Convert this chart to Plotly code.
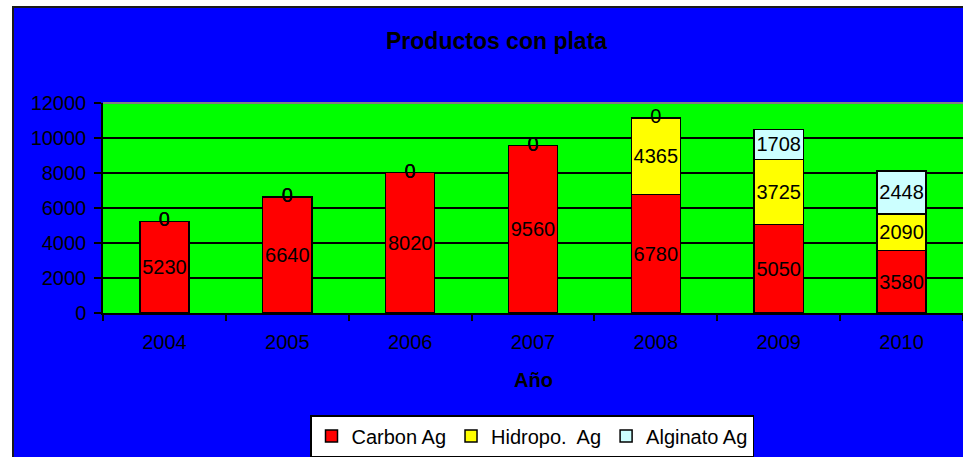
import plotly.graph_objects as go

years = ["2004", "2005", "2006", "2007", "2008", "2009", "2010"]
carbon_ag = [5230, 6640, 8020, 9560, 6780, 5050, 3580]
hidropo_ag = [0, 0, 0, 0, 4365, 3725, 2090]
alginato_ag = [0, 0, 0, 0, 0, 1708, 2448]

series_names = ["Carbon Ag", "Hidropo.\u00a0 Ag", "Alginato Ag"]
series_values = [carbon_ag, hidropo_ag, alginato_ag]
series_colors = ["#FF0000", "#FFFF00", "#CCFFFF"]

W, H = 963, 457
L, R, T, B = 103, 0, 103, 144
PW, PH = W - L - R, H - T - B


def px_x(px):
    return (px - L) / PW


def px_y(py):
    return (H - B - py) / PH


FONT = "Arial, Liberation Sans, sans-serif"
fig = go.Figure()

cum = [0] * len(years)
zero_x, zero_y = [], []
for name, vals, col in zip(series_names, series_values, series_colors):
    fig.add_trace(go.Bar(
        x=years, y=vals, name=name,
        marker=dict(color=col, line=dict(color="black", width=1.5)),
        text=[str(v) if v != 0 else "" for v in vals],
        textposition="inside", insidetextanchor="middle",
        textangle=0, constraintext="none",
        textfont=dict(family=FONT, size=20, color="black"),
        hoverinfo="skip",
    ))
    for i, v in enumerate(vals):
        cum[i] += v
        if v == 0:
            zero_x.append(years[i])
            zero_y.append(cum[i])

fig.add_trace(go.Scatter(
    x=zero_x, y=zero_y, mode="text", text=["0"] * len(zero_x),
    textposition="middle center", showlegend=False, cliponaxis=False,
    textfont=dict(family=FONT, size=20, color="black"), hoverinfo="skip",
))

shapes = [
    # white outer margins
    dict(type="rect", xref="paper", yref="paper", x0=px_x(-5), x1=px_x(12), y0=px_y(H + 5), y1=px_y(-5),
         fillcolor="white", line=dict(width=0), layer="below"),
    dict(type="rect", xref="paper", yref="paper", x0=px_x(-5), x1=px_x(W + 5), y0=px_y(6), y1=px_y(-5),
         fillcolor="white", line=dict(width=0), layer="below"),
    # chart border
    dict(type="line", xref="paper", yref="paper", x0=px_x(13), x1=px_x(13), y0=px_y(6), y1=px_y(H + 5),
         line=dict(color="#1a1a1a", width=2)),
    dict(type="line", xref="paper", yref="paper", x0=px_x(12), x1=px_x(W + 5), y0=px_y(7), y1=px_y(7),
         line=dict(color="#1a1a1a", width=2)),
    # plot-area top border
    dict(type="line", xref="paper", yref="paper", x0=0, x1=1, y0=1, y1=1,
         line=dict(color="#808080", width=2)),
]

annotations = [
    dict(text="<b>Productos con plata</b>", xref="paper", yref="paper", x=px_x(496), y=px_y(41),
         xanchor="center", yanchor="middle", showarrow=False, font=dict(family=FONT, size=23, color="black")),
    dict(text="<b>Año</b>", xref="paper", yref="paper", x=px_x(533), y=px_y(380),
         xanchor="center", yanchor="middle", showarrow=False, font=dict(family=FONT, size=20, color="black")),
]

fig.update_layout(
    width=W, height=H,
    margin=dict(l=L, r=R, t=T, b=B, autoexpand=False),
    paper_bgcolor="#0000FF", plot_bgcolor="#00FF00",
    barmode="stack", bargap=0.6,
    font=dict(family=FONT, size=20, color="black"),
    shapes=shapes, annotations=annotations,
    showlegend=True,
    legend=dict(orientation="h", x=px_x(532), xanchor="center", y=px_y(436), yanchor="middle",
                bgcolor="white", bordercolor="black", borderwidth=1.5, itemwidth=30,
                font=dict(family=FONT, size=20, color="black"), traceorder="normal"),
    xaxis=dict(type="category", categoryorder="array", categoryarray=years, range=[-0.5, 6.5],
               tickson="boundaries", ticks="outside", ticklen=6, tickcolor="black", tickwidth=1.5,
               showline=True, linecolor="black", linewidth=2, showgrid=False,
               tickfont=dict(family=FONT, size=20, color="black"), ticklabelstandoff=10),
    yaxis=dict(range=[0, 12000], dtick=2000, tick0=0, tickformat="d", showgrid=True,
               gridcolor="black", gridwidth=1.5,
               showline=True, linecolor="black", linewidth=1.5, zeroline=False,
               ticks="outside", ticklen=7, tickcolor="black", tickwidth=1.5,
               tickfont=dict(family=FONT, size=20, color="black"), ticklabelstandoff=4),
)

fig.write_html("out.html", config={"displayModeBar": False},
               post_script="document.body.style.margin='0';document.body.style.overflow='hidden';")
